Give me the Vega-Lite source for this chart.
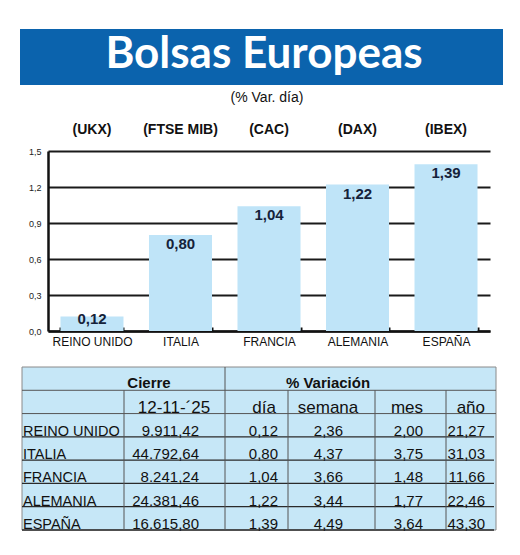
{
  "$schema": "https://vega.github.io/schema/vega-lite/v6.json",
  "background": "white",
  "padding": {"left": 20, "top": 29, "right": 0, "bottom": 0},
  "bounds": "flush",
  "spacing": 36,
  "datasets": {
    "bolsas": [
      {"pais": "REINO UNIDO", "ticker": "UKX", "cierre": 9911.42, "dia": 0.12, "semana": 2.36, "mes": 2.00, "ano": 21.27},
      {"pais": "ITALIA", "ticker": "FTSE MIB", "cierre": 44792.64, "dia": 0.80, "semana": 4.37, "mes": 3.75, "ano": 31.03},
      {"pais": "FRANCIA", "ticker": "CAC", "cierre": 8241.24, "dia": 1.04, "semana": 3.66, "mes": 1.48, "ano": 11.66},
      {"pais": "ALEMANIA", "ticker": "DAX", "cierre": 24381.46, "dia": 1.22, "semana": 3.44, "mes": 1.77, "ano": 22.46},
      {"pais": "ESPAÑA", "ticker": "IBEX", "cierre": 16615.80, "dia": 1.39, "semana": 4.49, "mes": 3.64, "ano": 43.30}
    ]
  },
  "vconcat": [
    {
      "width": 442,
      "height": 86,
      "data": {"values": [{"titulo": "Bolsas Europeas", "subtitulo": "(% Var. día)"}]},
      "layer": [
        {
          "mark": {"type": "rect", "color": "#0b63ad"},
          "encoding": {
            "x": {"datum": 20, "type": "quantitative", "scale": {"domain": [48, 490], "nice": false, "zero": false}, "axis": null},
            "x2": {"datum": 503},
            "y": {"datum": 29, "type": "quantitative", "scale": {"domain": [29, 115], "reverse": true, "nice": false, "zero": false}, "axis": null},
            "y2": {"datum": 85}
          }
        },
        {
          "mark": {"type": "text", "font": "Lato", "fontWeight": "bold", "fontSize": 44, "color": "white", "baseline": "alphabetic"},
          "encoding": {
            "x": {"datum": 264, "type": "quantitative"},
            "y": {"datum": 68, "type": "quantitative"},
            "text": {"field": "titulo"}
          }
        },
        {
          "mark": {"type": "text", "font": "Liberation Sans", "fontSize": 14, "color": "#111", "baseline": "alphabetic"},
          "encoding": {
            "x": {"datum": 267, "type": "quantitative"},
            "y": {"datum": 102, "type": "quantitative"},
            "text": {"field": "subtitulo"}
          }
        }
      ]
    },
    {
      "width": 442,
      "height": 180,
      "data": {"name": "bolsas"},
      "layer": [
        {
          "mark": {"type": "bar", "color": "#bfe4f8"},
          "encoding": {
            "x": {
              "field": "pais", "type": "nominal", "sort": null,
              "scale": {"paddingInner": 0.288, "paddingOuter": 0.141},
              "axis": {
                "orient": "bottom", "title": null, "labelAngle": 0,
                "labelFont": "Liberation Sans", "labelFontSize": 12, "labelColor": "#111", "labelPadding": 9,
                "domainColor": "#111", "domainWidth": 2.5,
                "tickBand": "extent", "tickSize": -4, "tickWidth": 2, "tickColor": "#111"
              }
            },
            "y": {
              "field": "dia", "type": "quantitative",
              "scale": {"domain": [0, 1.5], "nice": false},
              "axis": {
                "values": [0, 0.3, 0.6, 0.9, 1.2, 1.5], "tickCount": 10, "format": ".1f", "title": null,
                "grid": true, "gridColor": "#1a1a1a", "gridWidth": 2, "gridOpacity": 1,
                "domainColor": "#111", "domainWidth": 2.5, "ticks": false,
                "labelFont": "Liberation Sans", "labelFontSize": 9, "labelColor": "#222", "labelPadding": 7
              }
            }
          }
        },
        {
          "mark": {"type": "text", "baseline": "top", "dy": 2, "font": "Liberation Sans", "fontWeight": "bold", "fontSize": 15, "color": "#15223a"},
          "encoding": {
            "x": {
              "field": "ticker", "type": "nominal", "sort": null,
              "scale": {"type": "band", "paddingInner": 0.288, "paddingOuter": 0.141},
              "axis": {
                "orient": "top", "title": null, "domain": false, "ticks": false, "labelAngle": 0,
                "labelExpr": "'(' + datum.label + ')'",
                "labelFont": "Liberation Sans", "labelFontWeight": "bold", "labelFontSize": 14, "labelColor": "#111", "labelPadding": 15
              }
            },
            "y": {"field": "dia", "type": "quantitative"},
            "text": {"condition": {"test": "datum.dia < 0.2", "value": ""}, "field": "dia", "type": "quantitative", "format": ".2f"}
          }
        },
        {
          "mark": {"type": "text", "baseline": "top", "dy": -5, "font": "Liberation Sans", "fontWeight": "bold", "fontSize": 15, "color": "#15223a"},
          "encoding": {
            "x": {
              "field": "ticker", "type": "nominal", "sort": null,
              "scale": {"type": "band", "paddingInner": 0.288, "paddingOuter": 0.141},
              "axis": null
            },
            "y": {"field": "dia", "type": "quantitative"},
            "text": {"condition": {"test": "datum.dia >= 0.2", "value": ""}, "field": "dia", "type": "quantitative", "format": ".2f"}
          }
        }
      ],
      "resolve": {"scale": {"x": "independent"}, "axis": {"x": "independent"}}
    },
    {
      "width": 442,
      "height": 163,
      "layer": [
        {
          "data": {"values": [{}]},
          "mark": {"type": "rect", "color": "#c6e7f7", "stroke": "#8a8a8a", "strokeWidth": 1},
          "encoding": {
            "x": {"datum": 22, "type": "quantitative", "scale": {"domain": [48, 490], "nice": false, "zero": false}, "axis": null},
            "x2": {"datum": 496},
            "y": {"value": 0},
            "y2": {"value": "height"}
          }
        },
        {
          "data": {"values": [{}]},
          "mark": {"type": "rule", "color": "#555", "strokeWidth": 1},
          "encoding": {
            "x": {"datum": 22, "type": "quantitative"},
            "x2": {"datum": 496},
            "y": {"datum": "h1", "type": "nominal", "bandPosition": 1, "scale": {"type": "band", "domain": ["h1", "h2", "REINO UNIDO", "ITALIA", "FRANCIA", "ALEMANIA", "ESPAÑA"], "paddingInner": 0, "paddingOuter": 0}, "axis": null}
          }
        },
        {
          "data": {"values": [{}]},
          "mark": {"type": "rule", "color": "#555", "strokeWidth": 1},
          "encoding": {
            "x": {"datum": 22, "type": "quantitative"},
            "x2": {"datum": 496},
            "y": {"datum": "h2", "type": "nominal", "bandPosition": 1}
          }
        },
        {
          "data": {"name": "bolsas"},
          "mark": {"type": "rule", "color": "#2a2a2a", "strokeWidth": 1.3},
          "encoding": {
            "x": {"datum": 22, "type": "quantitative"},
            "x2": {"datum": 494},
            "y": {"field": "pais", "type": "nominal", "bandPosition": 1}
          }
        },
        {
          "data": {"values": [{}]},
          "mark": {"type": "rule", "color": "#555", "strokeWidth": 1},
          "encoding": {
            "x": {"datum": 225, "type": "quantitative"},
            "y": {"value": 0},
            "y2": {"value": "height"}
          }
        },
        {
          "data": {"values": [{}]},
          "mark": {"type": "rule", "color": "#555", "strokeWidth": 1},
          "encoding": {
            "x": {"datum": 124, "type": "quantitative"},
            "y": {"datum": "h2", "type": "nominal", "bandPosition": 0},
            "y2": {"value": "height"}
          }
        },
        {
          "data": {"values": [{}]},
          "mark": {"type": "rule", "color": "#555", "strokeWidth": 1},
          "encoding": {
            "x": {"datum": 288, "type": "quantitative"},
            "y": {"datum": "h2", "type": "nominal", "bandPosition": 0},
            "y2": {"value": "height"}
          }
        },
        {
          "data": {"values": [{}]},
          "mark": {"type": "rule", "color": "#555", "strokeWidth": 1},
          "encoding": {
            "x": {"datum": 375, "type": "quantitative"},
            "y": {"datum": "h2", "type": "nominal", "bandPosition": 0},
            "y2": {"value": "height"}
          }
        },
        {
          "data": {"values": [{}]},
          "mark": {"type": "rule", "color": "#555", "strokeWidth": 1},
          "encoding": {
            "x": {"datum": 446, "type": "quantitative"},
            "y": {"datum": "h2", "type": "nominal", "bandPosition": 0},
            "y2": {"value": "height"}
          }
        },
        {
          "data": {"values": [{}]},
          "mark": {"type": "text", "font": "Liberation Sans", "fontWeight": "bold", "fontSize": 15, "color": "#111", "baseline": "alphabetic", "dy": -2},
          "encoding": {
            "x": {"datum": 149, "type": "quantitative"},
            "y": {"datum": "h1", "type": "nominal", "bandPosition": 1},
            "text": {"value": "Cierre"}
          }
        },
        {
          "data": {"values": [{}]},
          "mark": {"type": "text", "font": "Liberation Sans", "fontWeight": "bold", "fontSize": 15, "color": "#111", "baseline": "alphabetic", "dy": -2},
          "encoding": {
            "x": {"datum": 328, "type": "quantitative"},
            "y": {"datum": "h1", "type": "nominal", "bandPosition": 1},
            "text": {"value": "% Variación"}
          }
        },
        {
          "data": {"values": [{}]},
          "mark": {"type": "text", "font": "Liberation Sans", "fontSize": 17, "color": "#111", "baseline": "alphabetic", "dy": -1},
          "encoding": {
            "x": {"datum": 174, "type": "quantitative"},
            "y": {"datum": "h2", "type": "nominal", "bandPosition": 1},
            "text": {"value": "12-11-´25"}
          }
        },
        {
          "data": {"values": [{}]},
          "mark": {"type": "text", "font": "Liberation Sans", "fontSize": 17, "color": "#111", "baseline": "alphabetic", "align": "right", "dy": -1},
          "encoding": {
            "x": {"datum": 276, "type": "quantitative"},
            "y": {"datum": "h2", "type": "nominal", "bandPosition": 1},
            "text": {"value": "día"}
          }
        },
        {
          "data": {"values": [{}]},
          "mark": {"type": "text", "font": "Liberation Sans", "fontSize": 17, "color": "#111", "baseline": "alphabetic", "dy": -1},
          "encoding": {
            "x": {"datum": 328, "type": "quantitative"},
            "y": {"datum": "h2", "type": "nominal", "bandPosition": 1},
            "text": {"value": "semana"}
          }
        },
        {
          "data": {"values": [{}]},
          "mark": {"type": "text", "font": "Liberation Sans", "fontSize": 17, "color": "#111", "baseline": "alphabetic", "align": "right", "dy": -1},
          "encoding": {
            "x": {"datum": 423, "type": "quantitative"},
            "y": {"datum": "h2", "type": "nominal", "bandPosition": 1},
            "text": {"value": "mes"}
          }
        },
        {
          "data": {"values": [{}]},
          "mark": {"type": "text", "font": "Liberation Sans", "fontSize": 17, "color": "#111", "baseline": "alphabetic", "align": "right", "dy": -1},
          "encoding": {
            "x": {"datum": 485, "type": "quantitative"},
            "y": {"datum": "h2", "type": "nominal", "bandPosition": 1},
            "text": {"value": "año"}
          }
        },
        {
          "data": {"name": "bolsas"},
          "mark": {"type": "text", "font": "Liberation Sans", "fontSize": 14.5, "color": "#111", "baseline": "alphabetic", "align": "left", "dy": -1},
          "encoding": {
            "x": {"datum": 23, "type": "quantitative"},
            "y": {"field": "pais", "type": "nominal", "bandPosition": 1},
            "text": {"field": "pais"}
          }
        },
        {
          "data": {"name": "bolsas"},
          "mark": {"type": "text", "font": "Liberation Sans", "fontSize": 15, "color": "#111", "baseline": "alphabetic", "align": "right", "dy": -1},
          "encoding": {
            "x": {"datum": 199, "type": "quantitative"},
            "y": {"field": "pais", "type": "nominal", "bandPosition": 1},
            "text": {"field": "cierre", "type": "quantitative", "format": ",.2f"}
          }
        },
        {
          "data": {"name": "bolsas"},
          "mark": {"type": "text", "font": "Liberation Sans", "fontSize": 15, "color": "#111", "baseline": "alphabetic", "align": "right", "dy": -1},
          "encoding": {
            "x": {"datum": 278, "type": "quantitative"},
            "y": {"field": "pais", "type": "nominal", "bandPosition": 1},
            "text": {"field": "dia", "type": "quantitative", "format": ".2f"}
          }
        },
        {
          "data": {"name": "bolsas"},
          "mark": {"type": "text", "font": "Liberation Sans", "fontSize": 15, "color": "#111", "baseline": "alphabetic", "align": "right", "dy": -1},
          "encoding": {
            "x": {"datum": 343, "type": "quantitative"},
            "y": {"field": "pais", "type": "nominal", "bandPosition": 1},
            "text": {"field": "semana", "type": "quantitative", "format": ".2f"}
          }
        },
        {
          "data": {"name": "bolsas"},
          "mark": {"type": "text", "font": "Liberation Sans", "fontSize": 15, "color": "#111", "baseline": "alphabetic", "align": "right", "dy": -1},
          "encoding": {
            "x": {"datum": 423, "type": "quantitative"},
            "y": {"field": "pais", "type": "nominal", "bandPosition": 1},
            "text": {"field": "mes", "type": "quantitative", "format": ".2f"}
          }
        },
        {
          "data": {"name": "bolsas"},
          "mark": {"type": "text", "font": "Liberation Sans", "fontSize": 15, "color": "#111", "baseline": "alphabetic", "align": "right", "dy": -1},
          "encoding": {
            "x": {"datum": 485, "type": "quantitative"},
            "y": {"field": "pais", "type": "nominal", "bandPosition": 1},
            "text": {"field": "ano", "type": "quantitative", "format": ".2f"}
          }
        }
      ]
    }
  ],
  "config": {
    "view": {"stroke": null},
    "font": "Liberation Sans",
    "locale": {
      "number": {"decimal": ",", "thousands": ".", "grouping": [3], "currency": ["", " €"]}
    }
  }
}
